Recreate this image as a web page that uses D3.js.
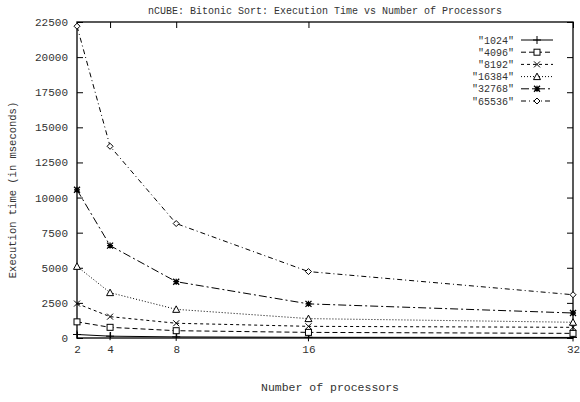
<!DOCTYPE html>
<html><head><meta charset="utf-8">
<script src="https://cdn.jsdelivr.net/npm/d3@7"></script>
<style>
body{margin:0;background:#fff;}
text{font-family:"Liberation Mono","DejaVu Sans Mono",monospace;fill:#333;}
</style></head>
<body><svg id="c" width="580" height="402"></svg>
<script>
const processors = [2, 4, 8, 16, 32];
const seriesNames = ["\"1024\"", "\"4096\"", "\"8192\"", "\"16384\"", "\"32768\"", "\"65536\""];
const s1024  = [250, 130, 80, 50, 40];
const s4096  = [1150, 760, 520, 400, 330];
const s8192  = [2450, 1520, 1050, 830, 760];
const s16384 = [5100, 3230, 2040, 1380, 1120];
const s32768 = [10550, 6580, 4010, 2430, 1780];
const s65536 = [22200, 13650, 8150, 4730, 3080];
const yTicks = [0, 2500, 5000, 7500, 10000, 12500, 15000, 17500, 20000, 22500];
const xTicks = [2, 4, 8, 16, 32];
const titleText = "nCUBE: Bitonic Sort: Execution Time vs Number of Processors";
const xTitle = "Number of processors";
const yTitle = "Execution time (in mseconds)";

const allSeries = [s1024, s4096, s8192, s16384, s32768, s65536];
const dashes = [null, "5,3", "3,3", "1,2", "8,3,2,3", "5,3,1,3"];
const markers = ["plus", "square", "cross", "triangle", "star", "diamond"];

const L = 77, R = 573, T = 22, B = 338;
const svg = d3.select("#c");
const x = d3.scaleLinear().domain([2, 32]).range([L, R]);
const y = d3.scaleLinear().domain([0, 22500]).range([B, T]);

const fs = "11px";
const gx = svg.append("g").attr("transform", `translate(0,${B})`)
  .call(d3.axisBottom(x).tickValues(xTicks).tickSizeInner(-6).tickSizeOuter(0).tickPadding(7).tickFormat(d3.format("d")));
const gxt = svg.append("g").attr("transform", `translate(0,${T})`)
  .call(d3.axisTop(x).tickValues(xTicks).tickSizeInner(-6).tickSizeOuter(0).tickFormat(""));
const gy = svg.append("g").attr("transform", `translate(${L},0)`)
  .call(d3.axisLeft(y).tickValues(yTicks).tickSizeInner(-6).tickSizeOuter(0).tickPadding(9).tickFormat(d3.format("d")));
const gyr = svg.append("g").attr("transform", `translate(${R},0)`)
  .call(d3.axisRight(y).tickValues(yTicks).tickSizeInner(-6).tickSizeOuter(0).tickFormat(""));
[gx, gxt, gy, gyr].forEach(g => {
  g.select(".domain").remove();
  g.selectAll("line").attr("stroke", "#000").attr("stroke-width", 1);
  g.selectAll("text").style("font-size", fs).attr("fill", "#333");
});
svg.append("rect").attr("x", L).attr("y", T).attr("width", R - L).attr("height", B - T)
  .attr("fill", "none").attr("stroke", "#000").attr("stroke-width", 1.3);

svg.append("text").attr("x", (L + R) / 2).attr("y", 14).attr("text-anchor", "middle")
  .style("font-size", "10px").text(titleText);
svg.append("text").attr("x", 330).attr("y", 391).attr("text-anchor", "middle")
  .style("font-size", "11.5px").text(xTitle);
svg.append("text").attr("transform", `translate(16,190) rotate(-90)`).attr("text-anchor", "middle")
  .style("font-size", "10.5px").text(yTitle);

function drawMarker(g, type, cx, cy) {
  const s = 3;
  const st = {stroke: "#000", "stroke-width": 1, fill: "none"};
  const ap = (sel) => { Object.entries(st).forEach(([k, v]) => sel.attr(k, v)); return sel; };
  if (type === "plus") {
    ap(g.append("path").attr("d", `M${cx - s - 1},${cy}H${cx + s + 1}M${cx},${cy - s - 1}V${cy + s + 1}`));
  } else if (type === "square") {
    ap(g.append("rect").attr("x", cx - s).attr("y", cy - s).attr("width", 2 * s).attr("height", 2 * s)).attr("fill", "#fff");
  } else if (type === "cross") {
    ap(g.append("path").attr("d", `M${cx - s},${cy - s}L${cx + s},${cy + s}M${cx - s},${cy + s}L${cx + s},${cy - s}`));
  } else if (type === "triangle") {
    ap(g.append("path").attr("d", `M${cx},${cy - s - 0.5}L${cx + s + 0.5},${cy + s}L${cx - s - 0.5},${cy + s}Z`)).attr("fill", "#fff");
  } else if (type === "star") {
    ap(g.append("path").attr("d", `M${cx - s},${cy}H${cx + s}M${cx},${cy - s}V${cy + s}M${cx - s},${cy - s}L${cx + s},${cy + s}M${cx - s},${cy + s}L${cx + s},${cy - s}`)).attr("stroke-width", 1.3);
  } else if (type === "diamond") {
    ap(g.append("path").attr("d", `M${cx},${cy - s}L${cx + s},${cy}L${cx},${cy + s}L${cx - s},${cy}Z`)).attr("fill", "#fff");
  }
}

const line = d3.line().x((d, i) => x(processors[i])).y(d => y(d));
allSeries.forEach((vals, k) => {
  const g = svg.append("g");
  g.append("path").datum(vals).attr("d", line).attr("fill", "none")
    .attr("stroke", "#000").attr("stroke-width", 1)
    .attr("stroke-dasharray", dashes[k]);
  vals.forEach((v, i) => drawMarker(g, markers[k], x(processors[i]), y(v)));
});

const legY0 = 40, legDy = 12.2;
seriesNames.forEach((name, k) => {
  const ly = legY0 + k * legDy;
  svg.append("text").attr("x", 514).attr("y", ly).attr("dy", "0.35em").attr("text-anchor", "end")
    .style("font-size", "10px").text(name);
  const g = svg.append("g");
  g.append("line").attr("x1", 521).attr("x2", 553).attr("y1", ly).attr("y2", ly)
    .attr("stroke", "#000").attr("stroke-width", 1).attr("stroke-dasharray", dashes[k]);
  drawMarker(g, markers[k], 537, ly);
});
</script></body></html>
